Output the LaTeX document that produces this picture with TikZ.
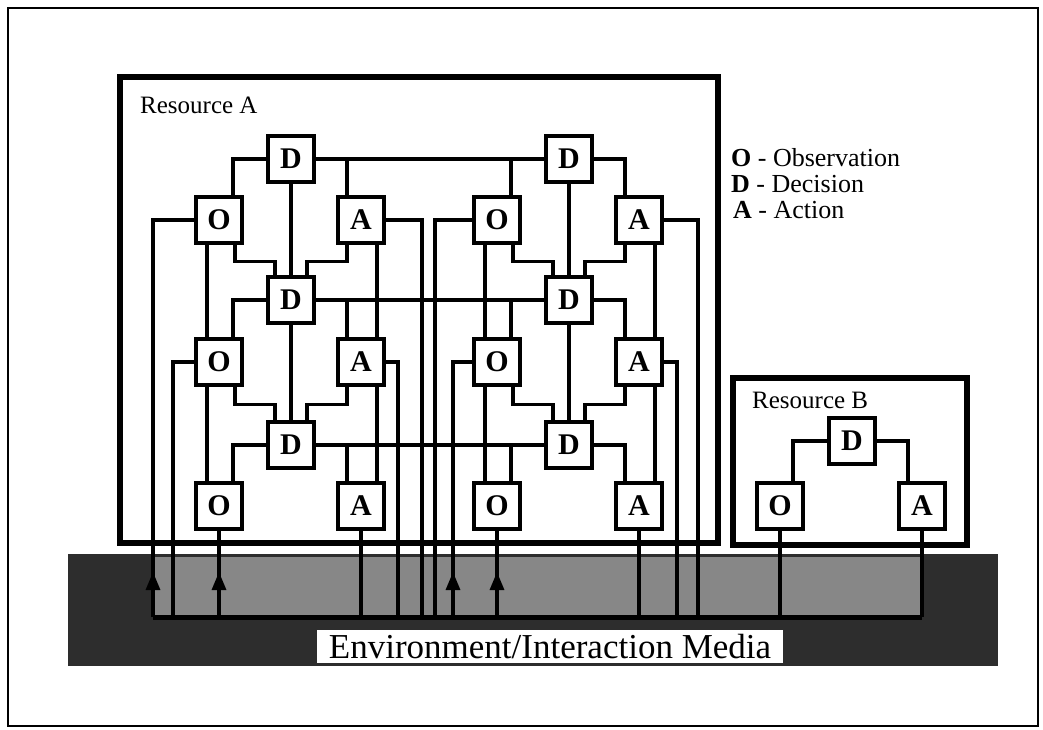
\documentclass[tikz,border=0pt]{standalone}
\usepackage{fontspec}
\setmainfont{Liberation Serif}
\usetikzlibrary{calc,arrows.meta}
\definecolor{mediaColor}{RGB}{45,45,45}
\definecolor{busColor}{RGB}{135,135,135}
\newcommand{\unitfont}{\fontsize{30}{32}\selectfont\bfseries}
\newcommand{\labelfont}{\fontsize{25}{27}\selectfont}
\newcommand{\legendfont}{\fontsize{26}{28}\selectfont}
\newcommand{\mediafont}{\fontsize{35}{37}\selectfont}

\begin{document}
\begin{tikzpicture}[
        x=1pt, y=-1pt,
        unit/.style={draw, line width=3.5pt, fill=white, minimum size=46pt, inner sep=0pt, font=\unitfont},
        res/.style={draw, line width=5.5pt},
        link/.style={line width=3.2pt},
        bus/.style={line width=5pt},
        arr/.style={-{Triangle[length=18pt, width=14pt]}, line width=3.2pt},
        lbl/.style={anchor=west, inner sep=0pt, font=\labelfont},
        leg/.style={anchor=west, inner sep=0pt, font=\legendfont},
        media/.style={fill=white, minimum width=466pt, minimum height=33pt, inner sep=0pt, font=\mediafont}
      ]
      \useasboundingbox (0,0) rectangle (1043,730);
      \draw[line width=2pt] (8,8) rectangle (1038,726);

      % environment band
      \fill[mediaColor] (68,554) rectangle (998,666);
      \fill[busColor] (153,557) rectangle (922,617);

      % resource boxes
      \draw[res] (120,77) rectangle (718,543);
      \draw[res] (733,378) rectangle (967,545);
      \node[lbl] (labA) at (140,105) {Resource A};
      \node[lbl] (labB) at (752,400) {Resource B};

      % legend
      \node[leg] (legO) at (731,158) {\textbf{O} - Observation};
      \node[leg] (legD) at (731,184) {\textbf{D} - Decision};
      \node[leg] (legA) at (733,210) {\textbf{A} - Action};

      % resource A, left
      \node[unit] (dL1) at (291,159) {D};
      \node[unit] (oL1) at (219,220) {O};
      \node[unit] (aL1) at (361,220) {A};
      \node[unit] (dL2) at (291,300) {D};
      \node[unit] (oL2) at (219,362) {O};
      \node[unit] (aL2) at (361,362) {A};
      \node[unit] (dL3) at (291,445) {D};
      \node[unit] (oL3) at (219,506) {O};
      \node[unit] (aL3) at (361,506) {A};

      % resource A, right
      \node[unit] (dR1) at (569,159) {D};
      \node[unit] (oR1) at (497,220) {O};
      \node[unit] (aR1) at (639,220) {A};
      \node[unit] (dR2) at (569,300) {D};
      \node[unit] (oR2) at (497,362) {O};
      \node[unit] (aR2) at (639,362) {A};
      \node[unit] (dR3) at (569,445) {D};
      \node[unit] (oR3) at (497,506) {O};
      \node[unit] (aR3) at (639,506) {A};

      % resource B
      \node[unit] (dB) at (852,441) {D};
      \node[unit] (oB) at (780,506) {O};
      \node[unit] (aB) at (922,506) {A};

      % taps on the bus
      \coordinate (tL1) at (153,617);
      \coordinate (tL2) at (173,617);
      \coordinate (tL3) at (219,617);
      \coordinate (tL4) at (361,617);
      \coordinate (tL5) at (398,617);
      \coordinate (tL6) at (422,617);
      \coordinate (tR1) at (435,617);
      \coordinate (tR2) at (453,617);
      \coordinate (tR3) at (497,617);
      \coordinate (tR4) at (639,617);
      \coordinate (tR5) at (677,617);
      \coordinate (tR6) at (698,617);
      \coordinate (tB1) at (780,617);
      \coordinate (tB2) at (922,617);

      % left group
      \draw[link] (dL1) -| ([xshift=14pt]oL1.north);
      \draw[link] (dL1) -| ([xshift=-14pt]aL1.north);
      \draw[link] (dL2) -| ([xshift=14pt]oL2.north);
      \draw[link] (dL2) -| ([xshift=-14pt]aL2.north);
      \draw[link] (dL3) -| ([xshift=14pt]oL3.north);
      \draw[link] (dL3) -| ([xshift=-14pt]aL3.north);
      \draw[link] (dL1) -- (dL2);
      \draw[link] (dL2) -- (dL3);
      \draw[link] ([xshift=-12pt]oL1.south) -- ([xshift=-12pt]oL2.north);
      \draw[link] ([xshift=-12pt]oL2.south) -- ([xshift=-12pt]oL3.north);
      \draw[link] ([xshift=16pt]aL1.south) -- ([xshift=16pt]aL2.north);
      \draw[link] ([xshift=16pt]aL2.south) -- ([xshift=16pt]aL3.north);
      \draw[link] ([xshift=16pt]oL1.south) -- ++(0,17) -| ([xshift=-16pt]dL2.north);
      \draw[link] ([xshift=-14pt]aL1.south) -- ++(0,17) -| ([xshift=16pt]dL2.north);
      \draw[link] ([xshift=16pt]oL2.south) -- ++(0,18) -| ([xshift=-16pt]dL3.north);
      \draw[link] ([xshift=-14pt]aL2.south) -- ++(0,18) -| ([xshift=16pt]dL3.north);

      % right group
      \draw[link] (dR1) -| ([xshift=14pt]oR1.north);
      \draw[link] (dR1) -| ([xshift=-14pt]aR1.north);
      \draw[link] (dR2) -| ([xshift=14pt]oR2.north);
      \draw[link] (dR2) -| ([xshift=-14pt]aR2.north);
      \draw[link] (dR3) -| ([xshift=14pt]oR3.north);
      \draw[link] (dR3) -| ([xshift=-14pt]aR3.north);
      \draw[link] (dR1) -- (dR2);
      \draw[link] (dR2) -- (dR3);
      \draw[link] ([xshift=-12pt]oR1.south) -- ([xshift=-12pt]oR2.north);
      \draw[link] ([xshift=-12pt]oR2.south) -- ([xshift=-12pt]oR3.north);
      \draw[link] ([xshift=16pt]aR1.south) -- ([xshift=16pt]aR2.north);
      \draw[link] ([xshift=16pt]aR2.south) -- ([xshift=16pt]aR3.north);
      \draw[link] ([xshift=16pt]oR1.south) -- ++(0,17) -| ([xshift=-16pt]dR2.north);
      \draw[link] ([xshift=-14pt]aR1.south) -- ++(0,17) -| ([xshift=16pt]dR2.north);
      \draw[link] ([xshift=16pt]oR2.south) -- ++(0,18) -| ([xshift=-16pt]dR3.north);
      \draw[link] ([xshift=-14pt]aR2.south) -- ++(0,18) -| ([xshift=16pt]dR3.north);

      % between the groups
      \draw[link] (dL1) -- (dR1);
      \draw[link] (dL2) -- (dR2);
      \draw[link] (dL3) -- (dR3);

      % resource B
      \draw[link] (dB) -| ([xshift=13pt]oB.north);
      \draw[link] (dB) -| ([xshift=-14pt]aB.north);

      % down to the media
      \draw[link] (oL1) -| (tL1);
      \draw[link] (oL2) -| (tL2);
      \draw[link] (oL3) -- (tL3);
      \draw[link] (aL3) -- (tL4);
      \draw[link] (aL2) -| (tL5);
      \draw[link] (aL1) -| (tL6);
      \draw[link] (oR1) -| (tR1);
      \draw[link] (oR2) -| (tR2);
      \draw[link] (oR3) -- (tR3);
      \draw[link] (aR3) -- (tR4);
      \draw[link] (aR2) -| (tR5);
      \draw[link] (aR1) -| (tR6);
      \draw[link] (oB) -- (tB1);
      \draw[link] (aB) -- (tB2);
      \draw[bus] (tL1) -- (tB2);
      \draw[arr] (tL1) -- ++(0,-45);
      \draw[arr] (tL3) -- ++(0,-45);
      \draw[arr] (tR2) -- ++(0,-45);
      \draw[arr] (tR3) -- ++(0,-45);

      \node[media] (env) at (550,646.5) {Environment/Interaction Media};
    \end{tikzpicture}
\end{document}
